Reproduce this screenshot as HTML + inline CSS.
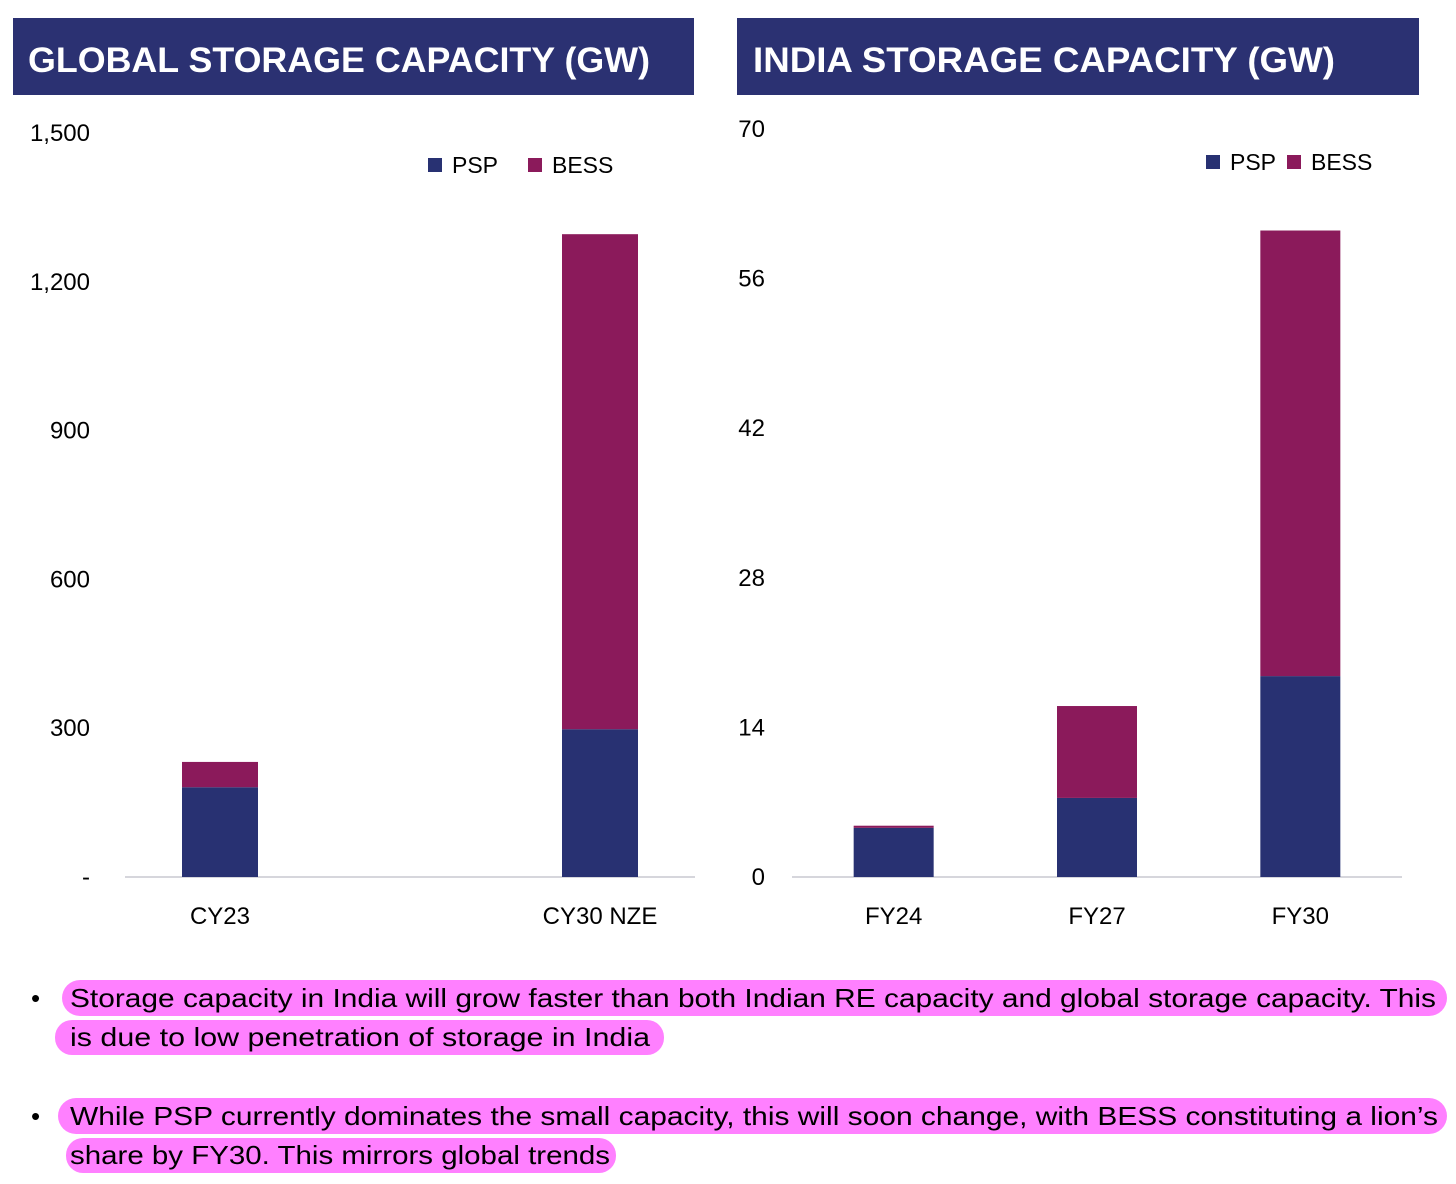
<!DOCTYPE html>
<html><head><meta charset="utf-8">
<style>
html,body{margin:0;padding:0;background:#fff;}
svg{display:block;font-family:"Liberation Sans",sans-serif;}
</style></head>
<body>
<svg id="root" width="1456" height="1184" viewBox="0 0 1456 1184">
  <rect x="13" y="18" width="681" height="77" fill="#2B3172"/>
  <text x="28" y="72" font-size="35" font-weight="bold" fill="#fff" textLength="622" lengthAdjust="spacingAndGlyphs">GLOBAL STORAGE CAPACITY (GW)</text>
  <rect x="737" y="18" width="682" height="77" fill="#2B3172"/>
  <text x="753" y="72" font-size="35" font-weight="bold" fill="#fff" textLength="582" lengthAdjust="spacingAndGlyphs">INDIA STORAGE CAPACITY (GW)</text>
  <g id="globalChart"></g>
  <g id="indiaChart"></g>

  <g>
    <rect x="62" y="980" width="1385" height="36" rx="18" fill="#FF80FF"/>
    <rect x="55" y="1020" width="609" height="35" rx="17" fill="#FF80FF"/>
    <rect x="58" y="1098" width="1389" height="36" rx="18" fill="#FF80FF"/>
    <rect x="66" y="1138" width="550" height="35" rx="17" fill="#FF80FF"/>
    <text x="31" y="1007" font-size="26">•</text>
    <text x="31" y="1125" font-size="26">•</text>
    <g font-size="26" fill="#000">
      <text x="70" y="1007" textLength="1366" lengthAdjust="spacingAndGlyphs">Storage capacity in India will grow faster than both Indian RE capacity and global storage capacity. This</text>
      <text x="70" y="1046" textLength="580" lengthAdjust="spacingAndGlyphs">is due to low penetration of storage in India</text>
      <text x="70" y="1125" textLength="1368" lengthAdjust="spacingAndGlyphs">While PSP currently dominates the small capacity, this will soon change, with BESS constituting a lion’s</text>
      <text x="70" y="1164" textLength="540" lengthAdjust="spacingAndGlyphs">share by FY30. This mirrors global trends</text>
    </g>
  </g>
</svg>
<script>
const globalCategories = ["CY23", "CY30 NZE"];
const globalPSP = [181, 298];
const globalBESS = [51, 998];
const globalTicks = [0, 300, 600, 900, 1200, 1500];
const globalTickLabels = ["-", "300", "600", "900", "1,200", "1,500"];

const indiaCategories = ["FY24", "FY27", "FY30"];
const indiaPSP = [4.6, 7.4, 18.8];
const indiaBESS = [0.2, 8.6, 41.7];
const indiaTicks = [0, 14, 28, 42, 56, 70];
const indiaTickLabels = ["0", "14", "28", "42", "56", "70"];

const NS = "http://www.w3.org/2000/svg";
function mk(tag, attrs, parent){
  const e = document.createElementNS(NS, tag);
  for (const k in attrs) e.setAttribute(k, attrs[k]);
  parent.appendChild(e);
  return e;
}
function drawChart(g, cfg){
  const y = v => cfg.y0 - (v / cfg.max) * (cfg.y0 - cfg.yTop);
  const band = (cfg.b1 - cfg.b0) / cfg.cats.length;
  const x = i => cfg.b0 + band * i + band / 2;
  cfg.ticks.forEach((t, i) => {
    const tx = mk("text", {x: cfg.tickX, y: y(t) + 8, "text-anchor": "end", "font-size": 24, fill: "#000"}, g);
    tx.textContent = cfg.tickLabels[i];
    
    
  });
  const ax = mk("line", {x1: cfg.x0, x2: cfg.x1, y1: cfg.y0, y2: cfg.y0, stroke: "#C8C8D0", "stroke-width": 1.5}, g);
  
  
  cfg.cats.forEach((c, i) => {
    const bx = x(i) - cfg.barW / 2;
    const p = mk("rect", {x: bx, y: y(cfg.psp[i]), width: cfg.barW, height: y(0) - y(cfg.psp[i]), fill: "#283172"}, g);
    
    
    const tot = cfg.psp[i] + cfg.bess[i];
    const b = mk("rect", {x: bx, y: y(tot), width: cfg.barW, height: y(cfg.psp[i]) - y(tot), fill: "#8B1A5B"}, g);
    
    
    const lt = mk("text", {x: x(i), y: cfg.y0 + 47, "text-anchor": "middle", "font-size": 24, fill: "#000"}, g);
    lt.textContent = c;
    
    
  });
  const lg = mk("g", {}, g);
  
  
  [["PSP", "#283172", cfg.legX[0]], ["BESS", "#8B1A5B", cfg.legX[1]]].forEach(([n, col, lx]) => {
    const s = mk("rect", {x: lx, y: cfg.legY, width: 14, height: 14, fill: col}, lg);
    
    
    const t = mk("text", {x: lx + 24, y: cfg.legY + 15, "font-size": 23, fill: "#000"}, lg);
    t.textContent = n;
    
    
  });
}
drawChart(document.getElementById("globalChart"), {
  cats: globalCategories, psp: globalPSP, bess: globalBESS, ticks: globalTicks, tickLabels: globalTickLabels,
  max: 1500, y0: 877, yTop: 133, x0: 125, x1: 695, b0: 30, b1: 790, barW: 76, tickX: 90, legX: [428, 528], legY: 158
});
drawChart(document.getElementById("indiaChart"), {
  cats: indiaCategories, psp: indiaPSP, bess: indiaBESS, ticks: indiaTicks, tickLabels: indiaTickLabels,
  max: 70, y0: 877, yTop: 129, x0: 792, x1: 1402, b0: 792, b1: 1402, barW: 80, tickX: 765, legX: [1206, 1287], legY: 155
});
</script>
</body></html>
